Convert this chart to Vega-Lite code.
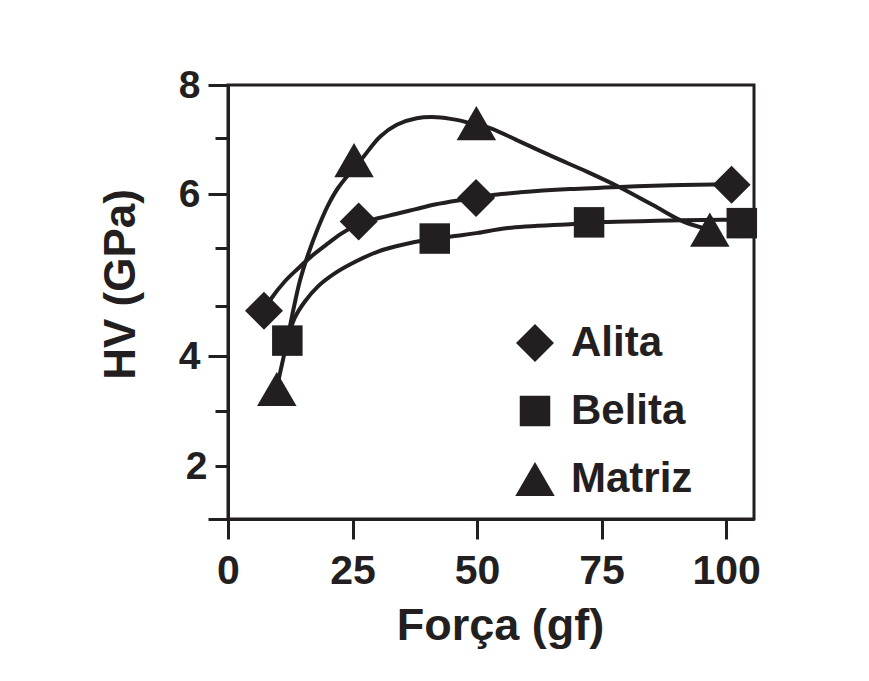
{
  "$schema": "https://vega.github.io/schema/vega-lite/v6.json",
  "width": 526,
  "height": 434,
  "autosize": {"type": "none"},
  "padding": {"left": 228, "top": 85, "right": 115, "bottom": 162},
  "background": "white",
  "config": {
    "view": {"stroke": "#231f20", "strokeWidth": 3},
    "font": "Liberation Sans"
  },
  "datasets": {
    "points": [
      {"serie": "Alita", "forca": 7.23, "hv": 4.56},
      {"serie": "Alita", "forca": 26.24, "hv": 5.66},
      {"serie": "Alita", "forca": 49.8, "hv": 5.95},
      {"serie": "Alita", "forca": 101.1, "hv": 6.17},
      {"serie": "Belita", "forca": 11.91, "hv": 4.19},
      {"serie": "Belita", "forca": 41.51, "hv": 5.45},
      {"serie": "Belita", "forca": 72.49, "hv": 5.65},
      {"serie": "Belita", "forca": 103.15, "hv": 5.64},
      {"serie": "Matriz", "forca": 9.8, "hv": 3.4},
      {"serie": "Matriz", "forca": 25.3, "hv": 6.62},
      {"serie": "Matriz", "forca": 49.86, "hv": 7.3},
      {"serie": "Matriz", "forca": 96.73, "hv": 5.56}
    ],
    "curves": [
      {"serie": "Alita", "forca": 7.23, "hv": 4.56},
      {"serie": "Alita", "forca": 8.69, "hv": 4.71},
      {"serie": "Alita", "forca": 11.39, "hv": 4.92},
      {"serie": "Alita", "forca": 14.06, "hv": 5.08},
      {"serie": "Alita", "forca": 16.73, "hv": 5.23},
      {"serie": "Alita", "forca": 20.08, "hv": 5.39},
      {"serie": "Alita", "forca": 22.75, "hv": 5.51},
      {"serie": "Alita", "forca": 26.24, "hv": 5.63},
      {"serie": "Alita", "forca": 30.12, "hv": 5.7},
      {"serie": "Alita", "forca": 33.47, "hv": 5.75},
      {"serie": "Alita", "forca": 37.49, "hv": 5.81},
      {"serie": "Alita", "forca": 41.51, "hv": 5.87},
      {"serie": "Alita", "forca": 46.18, "hv": 5.92},
      {"serie": "Alita", "forca": 49.8, "hv": 5.95},
      {"serie": "Alita", "forca": 53.55, "hv": 5.99},
      {"serie": "Alita", "forca": 58.63, "hv": 6.03},
      {"serie": "Alita", "forca": 68.67, "hv": 6.09},
      {"serie": "Alita", "forca": 78.71, "hv": 6.13},
      {"serie": "Alita", "forca": 88.76, "hv": 6.16},
      {"serie": "Alita", "forca": 97.45, "hv": 6.175},
      {"serie": "Alita", "forca": 101.14, "hv": 6.18},
      {"serie": "Belita", "forca": 11.91, "hv": 4.19},
      {"serie": "Belita", "forca": 13.39, "hv": 4.47},
      {"serie": "Belita", "forca": 15.4, "hv": 4.67},
      {"serie": "Belita", "forca": 18.07, "hv": 4.86},
      {"serie": "Belita", "forca": 21.43, "hv": 5.02},
      {"serie": "Belita", "forca": 25.44, "hv": 5.16},
      {"serie": "Belita", "forca": 30.12, "hv": 5.29},
      {"serie": "Belita", "forca": 34.8, "hv": 5.37},
      {"serie": "Belita", "forca": 41.51, "hv": 5.45},
      {"serie": "Belita", "forca": 46.85, "hv": 5.49},
      {"serie": "Belita", "forca": 50.2, "hv": 5.52},
      {"serie": "Belita", "forca": 56.22, "hv": 5.58},
      {"serie": "Belita", "forca": 69.34, "hv": 5.63},
      {"serie": "Belita", "forca": 72.49, "hv": 5.645},
      {"serie": "Belita", "forca": 75.7, "hv": 5.655},
      {"serie": "Belita", "forca": 86.08, "hv": 5.67},
      {"serie": "Belita", "forca": 95.44, "hv": 5.68},
      {"serie": "Belita", "forca": 105.42, "hv": 5.68},
      {"serie": "Matriz", "forca": 9.8, "hv": 3.4},
      {"serie": "Matriz", "forca": 10.38, "hv": 3.66},
      {"serie": "Matriz", "forca": 11.71, "hv": 4.14},
      {"serie": "Matriz", "forca": 13.05, "hv": 4.55},
      {"serie": "Matriz", "forca": 14.4, "hv": 4.92},
      {"serie": "Matriz", "forca": 16.06, "hv": 5.25},
      {"serie": "Matriz", "forca": 18.07, "hv": 5.58},
      {"serie": "Matriz", "forca": 20.08, "hv": 5.86},
      {"serie": "Matriz", "forca": 22.09, "hv": 6.11},
      {"serie": "Matriz", "forca": 27.17, "hv": 6.68},
      {"serie": "Matriz", "forca": 30.52, "hv": 7.05},
      {"serie": "Matriz", "forca": 33.88, "hv": 7.27},
      {"serie": "Matriz", "forca": 37.89, "hv": 7.39},
      {"serie": "Matriz", "forca": 41.91, "hv": 7.41},
      {"serie": "Matriz", "forca": 45.92, "hv": 7.36},
      {"serie": "Matriz", "forca": 48.59, "hv": 7.3},
      {"serie": "Matriz", "forca": 52.61, "hv": 7.21},
      {"serie": "Matriz", "forca": 58.63, "hv": 6.96},
      {"serie": "Matriz", "forca": 65.32, "hv": 6.68},
      {"serie": "Matriz", "forca": 72.03, "hv": 6.41},
      {"serie": "Matriz", "forca": 78.71, "hv": 6.12},
      {"serie": "Matriz", "forca": 85.4, "hv": 5.86},
      {"serie": "Matriz", "forca": 91.43, "hv": 5.66},
      {"serie": "Matriz", "forca": 96.73, "hv": 5.56}
    ]
  },
  "encoding": {
    "x": {
      "field": "forca",
      "type": "quantitative",
      "scale": {"domain": [0, 105.6], "nice": false, "zero": false},
      "axis": {
        "title": "Força (gf)",
        "values": [0, 25, 50, 75, 100],
        "grid": false,
        "domainColor": "#231f20",
        "domainWidth": 3,
        "tickColor": "#231f20",
        "tickWidth": 3,
        "tickSize": 20,
        "labelFont": "Liberation Sans",
        "labelFontSize": 41,
        "labelFontWeight": "bold",
        "labelColor": "#231f20",
        "labelPadding": 12,
        "labelFlush": false,
        "labelOverlap": false,
        "titleFont": "Liberation Sans",
        "titleFontSize": 45,
        "titleFontWeight": "bold",
        "titleColor": "#231f20",
        "titlePadding": 12,
        "titleX": 272
      }
    },
    "y": {
      "field": "hv",
      "type": "quantitative",
      "scale": {"domain": [1, 2, 4, 6, 8], "range": [434, 381, 271, 109, 0], "nice": false, "zero": false},
      "axis": {
        "title": "HV (GPa)",
        "values": [1, 2, 3, 4, 4.62, 5.33, 6, 7.03, 8],
        "grid": false,
        "domainColor": "#231f20",
        "domainWidth": 3,
        "tickColor": "#231f20",
        "tickWidth": 3,
        "tickSize": {"condition": {"test": "datum.value == 1 || datum.value == 4 || datum.value == 6 || datum.value == 8", "value": 20}, "value": 13},
        "labelExpr": "(datum.value == 2 || datum.value == 4 || datum.value == 6 || datum.value == 8) ? datum.label : ''",
        "labelFont": "Liberation Sans",
        "labelFontSize": 39,
        "labelFontWeight": "bold",
        "labelColor": "#231f20",
        "labelPadding": 8,
        "labelFlush": false,
        "labelOverlap": false,
        "titleFont": "Liberation Sans",
        "titleFontSize": 44,
        "titleFontWeight": "bold",
        "titleColor": "#231f20",
        "titlePadding": 35,
        "titleY": 199
      }
    }
  },
  "layer": [
    {
      "data": {"name": "curves"},
      "mark": {"type": "line", "interpolate": "catmull-rom", "color": "#231f20", "strokeWidth": 4},
      "encoding": {"detail": {"field": "serie"}}
    },
    {
      "data": {"name": "points"},
      "mark": {"type": "point", "filled": true, "opacity": 1, "color": "#231f20", "strokeWidth": 0},
      "encoding": {
        "shape": {
          "field": "serie",
          "type": "nominal",
          "scale": {"domain": ["Alita", "Belita", "Matriz"], "range": ["diamond", "square", "triangle-up"]},
          "legend": {
            "orient": "none", "legendX": 286, "legendY": 237, "title": null, "padding": 0,
            "labelFont": "Liberation Sans", "labelFontSize": 42, "labelFontWeight": "bold", "labelColor": "#231f20",
            "labelOffset": 15, "rowPadding": 26, "symbolStrokeWidth": 0, "symbolOpacity": 1, "symbolFillColor": "#231f20"
          }
        },
        "size": {
          "field": "serie",
          "type": "nominal",
          "scale": {"type": "ordinal", "domain": ["Alita", "Belita", "Matriz"], "range": [1444, 930, 1560]},
          "legend": {
            "orient": "none", "legendX": 286, "legendY": 237, "title": null, "padding": 0,
            "labelFont": "Liberation Sans", "labelFontSize": 42, "labelFontWeight": "bold", "labelColor": "#231f20",
            "labelOffset": 15, "rowPadding": 26, "symbolStrokeWidth": 0, "symbolOpacity": 1, "symbolFillColor": "#231f20"
          }
        }
      }
    }
  ]
}
